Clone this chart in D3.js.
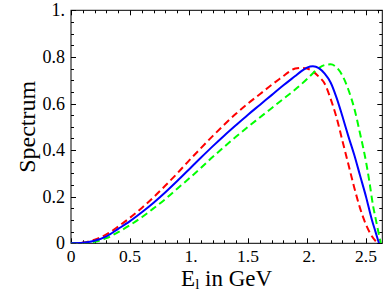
<!DOCTYPE html>
<html><head><meta charset="utf-8">
<script src="https://cdn.jsdelivr.net/npm/d3@7"></script>
<style>body{margin:0;background:#fff}svg{display:block}</style>
</head><body><svg id="c" width="392" height="294"></svg>
<script>
const blueX = [0,0.1,0.2,0.3,0.4,0.5,0.6,0.7,0.8,0.9,1.0,1.1,1.2,1.3,1.4,1.5,1.6,1.7,1.8,1.9,1.95,2.0,2.05,2.1,2.15,2.2,2.25,2.3,2.35,2.4,2.45,2.5,2.55,2.58,2.61];
const blueY = [0,0.002,0.011,0.03,0.062,0.095,0.133,0.174,0.219,0.267,0.317,0.367,0.416,0.463,0.508,0.552,0.594,0.636,0.678,0.718,0.738,0.754,0.760,0.752,0.728,0.69,0.625,0.545,0.46,0.38,0.29,0.20,0.10,0.05,0];
const redX = [0,0.1,0.2,0.3,0.4,0.5,0.6,0.7,0.8,0.9,1.0,1.1,1.2,1.3,1.4,1.5,1.6,1.7,1.8,1.85,1.9,1.95,2.0,2.05,2.1,2.15,2.2,2.25,2.3,2.35,2.4,2.45,2.5,2.55,2.6];
const redY = [0,0.003,0.015,0.038,0.072,0.11,0.152,0.198,0.248,0.30,0.355,0.408,0.46,0.51,0.557,0.60,0.64,0.68,0.718,0.737,0.75,0.753,0.75,0.738,0.715,0.685,0.62,0.54,0.44,0.34,0.24,0.15,0.08,0.03,0];
const greenX = [0,0.1,0.2,0.3,0.4,0.5,0.6,0.7,0.8,0.9,1.0,1.1,1.2,1.3,1.4,1.5,1.6,1.7,1.8,1.9,2.0,2.05,2.1,2.15,2.2,2.25,2.3,2.35,2.4,2.45,2.5,2.53,2.56,2.58,2.6,2.625];
const greenY = [0,0.001,0.007,0.022,0.048,0.078,0.112,0.150,0.19,0.234,0.278,0.323,0.37,0.415,0.458,0.50,0.54,0.58,0.62,0.66,0.705,0.73,0.752,0.765,0.768,0.755,0.72,0.66,0.58,0.47,0.35,0.26,0.16,0.11,0.06,0];
const xTickLabels = ["0","0.5","1.","1.5","2.","2.5"];
const xTickVals = [0,0.5,1,1.5,2,2.5];
const yTickLabels = ["0","0.2","0.4","0.6","0.8","1."];
const yTickVals = [0,0.2,0.4,0.6,0.8,1];

const FONT = "'Liberation Serif', 'DejaVu Serif', serif";
const svg = d3.select("#c");
const L=71, R=382.3, T=10.3, B=243.3;
const x = d3.scaleLinear().domain([0,2.638]).range([L,R]);
const y = d3.scaleLinear().domain([0,1]).range([B,T]);

const xMinor = d3.range(0,27).map(i=>i/10).filter(v=>v<=2.638);
const yMinor = d3.range(0,21).map(i=>i/20);
const g = svg.append("g").attr("stroke","#000").attr("stroke-width",1);
const isMajX = v => Math.abs(v*2-Math.round(v*2))<1e-6;
const isMajY = v => Math.abs(v*5-Math.round(v*5))<1e-6;
xMinor.forEach(v=>{
  const len = isMajX(v)?5:3;
  const px = Math.round(x(v))+0.5;
  g.append("line").attr("x1",px).attr("x2",px).attr("y1",B).attr("y2",B-len);
  g.append("line").attr("x1",px).attr("x2",px).attr("y1",T).attr("y2",T+len);
});
yMinor.forEach(v=>{
  const len = isMajY(v)?5:3;
  const py = Math.round(y(v))+0.5;
  g.append("line").attr("x1",L).attr("x2",L+len).attr("y1",py).attr("y2",py);
  g.append("line").attr("x1",R).attr("x2",R-len).attr("y1",py).attr("y2",py);
});
svg.append("rect").attr("x",L).attr("y",T).attr("width",R-L).attr("height",B-T)
  .attr("fill","none").attr("stroke","#000").attr("stroke-width",1);

xTickVals.forEach((v,i)=>{
  svg.append("text").attr("x",x(v)+(xTickLabels[i].endsWith(".")?2:0)).attr("y",B+18.2)
    .attr("text-anchor","middle").attr("font-family",FONT).attr("font-size",17.5).text(xTickLabels[i]);
});
yTickVals.forEach((v,i)=>{
  svg.append("text").attr("x",L-6).attr("y",y(v)+6)
    .attr("text-anchor","end").attr("font-family",FONT).attr("font-size",18).text(yTickLabels[i]);
});

svg.append("clipPath").attr("id","cp").append("rect").attr("x",L).attr("y",T-5).attr("width",R-L).attr("height",B-T+5);
const line = d3.line().x(d=>x(d[0])).y(d=>y(d[1])).curve(d3.curveMonotoneX);
const series = [
  {xs:redX, ys:redY, color:"#ff0000", dash:"7,4"},
  {xs:greenX, ys:greenY, color:"#00ff00", dash:"7,4"},
  {xs:blueX, ys:blueY, color:"#0000ff", dash:null}
];
series.forEach(s=>{
  const p = svg.append("path").datum(s.xs.map((v,i)=>[v,s.ys[i]]))
    .attr("d",line).attr("fill","none").attr("stroke",s.color).attr("stroke-width",2)
    .attr("clip-path","url(#cp)");
  if(s.dash) p.attr("stroke-dasharray",s.dash);
});

svg.append("text").attr("transform",`translate(${27},${(T+B)/2}) rotate(-90)`)
  .attr("text-anchor","middle").attr("font-family",FONT).attr("font-size",24).attr("dy","0.35em").text("Spectrum");
const xt = svg.append("text").attr("x",(L+R)/2).attr("y",285.5).attr("text-anchor","middle").attr("font-family",FONT).attr("font-size",23);
xt.append("tspan").text("E");
xt.append("tspan").attr("font-size",15).attr("dy",3.5).text("l");
xt.append("tspan").attr("dy",-3.5).text(" in GeV");
</script></body></html>
